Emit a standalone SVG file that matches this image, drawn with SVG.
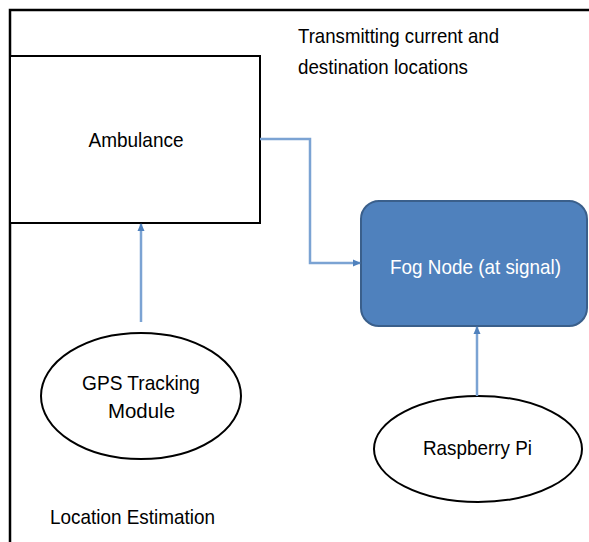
<svg xmlns="http://www.w3.org/2000/svg" width="589" height="542" viewBox="0 0 589 542">
<style>
text{font-family:"Liberation Sans",Arial,sans-serif;font-size:21px;fill:#000}
.w{fill:#fff}
.c{fill:none;stroke:#7BA3D3;stroke-width:2.5}
.b{fill:#fff;stroke:#000;stroke-width:2}
</style>
<defs>
<marker id="ah" markerWidth="8" markerHeight="8" refX="7" refY="4" orient="auto" markerUnits="userSpaceOnUse">
<path d="M0,0.5 L8,4 L0,7.5 Z" fill="#4F81BD"/>
</marker>
</defs>
<g id="frame">
<path d="M10,542 V10 H589" fill="none" stroke="#000" stroke-width="2.5"/>
</g>
<g id="ambulance">
<rect class="b" x="10" y="56" width="250" height="167"/>
<text x="136" y="147" text-anchor="middle" textLength="95" lengthAdjust="spacingAndGlyphs">Ambulance</text>
</g>
<g id="fog-node">
<rect x="361" y="201" width="226" height="125" rx="18" fill="#4F81BD" stroke="#3A5F8B" stroke-width="2"/>
<text class="w" x="475.5" y="274" text-anchor="middle" textLength="171" lengthAdjust="spacingAndGlyphs">Fog Node (at signal)</text>
</g>
<g id="gps">
<ellipse class="b" cx="141" cy="396" rx="100" ry="63"/>
<text x="141" y="390" text-anchor="middle" textLength="118" lengthAdjust="spacingAndGlyphs">GPS Tracking</text>
<text x="141.5" y="418" text-anchor="middle" textLength="67" lengthAdjust="spacingAndGlyphs">Module</text>
</g>
<g id="raspberry-pi">
<ellipse class="b" cx="478" cy="449" rx="104" ry="53"/>
<text x="477.5" y="455" text-anchor="middle" textLength="109" lengthAdjust="spacingAndGlyphs">Raspberry Pi</text>
</g>
<g id="labels">
<text x="298" y="43" textLength="201" lengthAdjust="spacingAndGlyphs">Transmitting current and</text>
<text x="298" y="74" textLength="170" lengthAdjust="spacingAndGlyphs">destination locations</text>
<text x="50" y="524" textLength="165" lengthAdjust="spacingAndGlyphs">Location Estimation</text>
</g>
<g id="connectors">
<path class="c" d="M260,139 H310 V263 H360" marker-end="url(#ah)"/>
<path class="c" d="M141,322 V224" marker-end="url(#ah)"/>
<path class="c" d="M477,396 V327" marker-end="url(#ah)"/>
</g>
</svg>
